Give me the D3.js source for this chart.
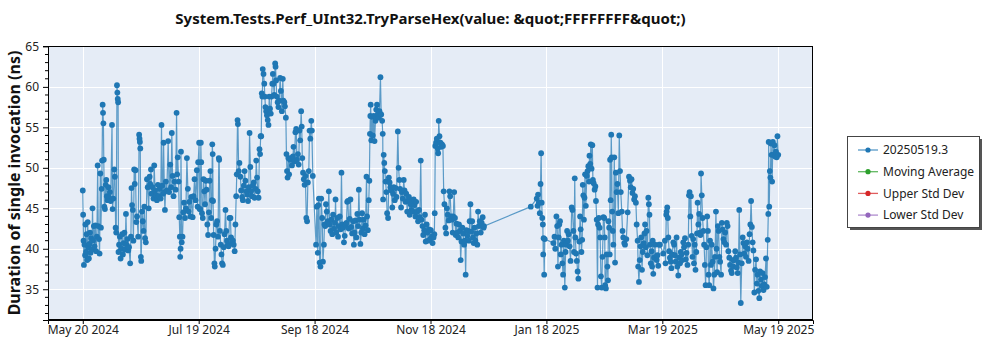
<!DOCTYPE html>
<html>
<head>
<meta charset="utf-8">
<script src="https://cdn.jsdelivr.net/npm/d3@7"></script>
<style>
  html, body { margin: 0; padding: 0; background: #ffffff; }
  svg { display: block; font-family: "Segoe UI", "Noto Sans", "Open Sans", sans-serif; }
</style>
</head>
<body>
<svg id="chart" width="1000" height="350"></svg>
<script>
// ---- data -------------------------------------------------------------
const chartTitle = "System.Tests.Perf_UInt32.TryParseHex(value: &quot;FFFFFFFF&quot;)";
const yAxisTitle = "Duration of single invocation (ns)";
const firstRun = new Date(2024, 4, 20);
const lastRun = new Date(2025, 4, 19);
const xTickLabels = ["May 20 2024", "Jul 19 2024", "Sep 18 2024", "Nov 18 2024", "Jan 18 2025", "Mar 19 2025", "May 19 2025"];
const yMajorTicks = [35, 40, 45, 50, 55, 60, 65];
const legendLabels = ["20250519.3", "Moving Average", "Upper Std Dev", "Lower Std Dev"];
const legendColors = ["#1f77b4", "#2ca02c", "#d62728", "#9467bd"];

// [days since first run, duration in ns]
const runs = [
[0.0,47.2],[0.2,44.2],[0.4,41.0],[0.6,38.0],[0.9,40.5],[1.2,39.2],[1.4,43.0],[1.7,39.6],[2.0,41.8],[2.3,38.6],
[2.6,43.3],[2.9,40.2],[3.2,38.8],[3.5,40.6],[3.8,42.0],[4.1,39.5],[4.4,41.3],[4.8,39.9],[5.1,45.0],[5.4,41.0],
[5.8,42.8],[6.2,40.3],[6.6,42.9],[7.0,39.7],[7.4,41.5],[7.8,50.3],[8.1,42.8],[8.5,41.2],[8.8,39.4],[9.2,49.3],
[9.5,42.6],[9.9,47.4],[10.1,50.9],[10.4,57.8],[10.6,56.8],[10.8,55.5],[11.0,51.0],[11.3,45.2],[11.6,44.9],[12.0,47.9],
[12.3,48.5],[12.6,46.5],[13.0,46.0],[13.4,47.6],[13.8,46.3],[14.2,47.0],[14.6,45.9],[15.3,55.3],[15.6,44.9],[16.0,46.2],
[16.5,49.8],[16.8,48.9],[17.2,42.6],[17.5,42.0],[17.9,60.2],[18.1,59.3],[18.3,58.5],[18.5,58.1],[18.7,39.6],[19.0,40.5],
[19.4,41.5],[19.8,38.8],[20.2,40.0],[20.6,41.8],[21.0,39.3],[21.4,40.7],[21.8,42.0],[22.2,39.9],[22.6,44.3],[23.0,40.5],
[23.4,41.2],[23.8,39.8],[24.2,40.2],[24.8,38.2],[25.2,41.5],[25.5,47.5],[25.8,45.4],[26.2,44.8],[26.5,41.0],[26.9,49.8],
[27.2,48.0],[27.6,49.7],[28.0,43.3],[28.4,44.0],[29.0,41.5],[29.5,54.1],[29.7,53.6],[29.9,53.2],[30.1,52.4],[30.4,39.0],
[30.6,38.5],[31.0,44.6],[31.4,43.4],[31.8,42.2],[32.2,45.2],[32.6,41.3],[33.0,40.8],[33.6,48.6],[34.0,47.6],[34.5,45.0],
[35.0,48.9],[35.3,48.0],[35.7,49.8],[36.0,46.8],[36.5,47.6],[37.0,46.2],[37.4,50.3],[37.8,47.2],[38.3,46.6],[38.8,46.0],
[39.3,47.9],[39.8,46.5],[40.3,47.4],[40.8,46.2],[41.2,55.3],[41.6,47.8],[42.0,46.8],[42.3,53.1],[42.7,47.0],[43.0,44.8],
[43.5,48.3],[44.0,47.2],[44.7,53.3],[45.2,47.0],[45.8,50.4],[46.2,47.6],[46.6,54.3],[47.0,49.0],[47.5,46.5],[48.0,48.3],
[48.6,47.3],[49.1,56.8],[49.4,49.2],[49.7,51.3],[50.2,48.3],[50.5,43.9],[50.8,41.5],[51.0,39.0],[51.2,40.0],[51.4,52.0],
[51.8,40.8],[52.2,41.5],[52.6,44.5],[53.0,45.7],[53.5,43.8],[54.0,45.0],[54.5,51.2],[55.0,47.4],[55.4,44.6],[55.8,45.8],
[56.3,44.0],[56.8,46.4],[57.5,43.9],[58.0,46.5],[58.5,48.6],[59.0,46.0],[59.7,49.7],[60.1,45.2],[60.4,50.7],[60.9,53.1],
[61.2,44.9],[61.5,44.9],[61.8,53.1],[62.0,50.7],[62.4,44.4],[62.8,43.8],[63.2,48.6],[63.6,47.1],[64.0,45.5],[64.4,48.4],
[64.8,47.3],[65.2,43.0],[65.6,41.7],[66.0,44.5],[66.4,48.4],[66.8,49.6],[67.2,43.8],[67.6,46.0],[67.8,52.9],[68.0,51.7],
[68.2,45.9],[68.5,41.7],[68.9,38.2],[69.1,37.8],[69.5,40.0],[69.9,43.0],[70.3,43.4],[70.8,41.5],[71.2,51.2],[71.4,51.0],
[71.8,42.2],[72.2,40.5],[72.6,39.3],[72.9,38.2],[73.3,38.0],[73.8,40.2],[74.2,41.8],[74.7,44.8],[75.1,42.2],[75.5,41.0],
[75.9,40.5],[76.3,40.3],[76.8,43.8],[77.3,43.8],[77.6,41.4],[78.1,40.8],[78.6,41.0],[79.0,40.5],[79.5,39.7],[79.9,43.0],
[80.3,46.5],[80.6,49.2],[81.0,55.9],[81.2,55.4],[81.6,49.6],[82.0,50.6],[82.5,48.9],[82.9,47.2],[83.4,46.4],[83.8,46.0],
[84.3,47.8],[84.7,49.6],[85.1,48.4],[85.6,47.1],[86.0,46.7],[86.5,45.9],[86.9,47.6],[87.3,54.3],[87.7,50.1],[88.1,47.1],
[88.5,46.5],[89.0,47.8],[89.5,48.2],[89.9,46.3],[90.4,47.4],[90.8,50.9],[91.2,48.8],[91.6,47.1],[92.0,46.3],[92.5,52.3],
[92.8,51.7],[93.1,53.9],[93.4,53.9],[93.7,59.2],[94.0,58.8],[94.2,62.2],[94.6,61.6],[95.0,60.4],[95.3,58.8],[95.6,57.5],
[96.0,57.0],[96.4,56.5],[96.8,55.9],[97.2,55.3],[97.6,58.8],[98.0,57.3],[98.4,56.7],[98.8,58.8],[99.2,60.4],[99.5,61.6],
[99.8,60.4],[100.2,59.0],[100.7,62.9],[100.9,62.5],[101.2,60.8],[101.5,58.8],[102.0,58.1],[102.4,57.5],[102.8,58.3],[103.3,61.1],
[103.7,59.5],[104.2,57.0],[104.7,61.0],[105.0,58.3],[105.5,58.1],[105.8,57.6],[106.3,56.2],[106.6,51.7],[106.9,49.6],[107.2,48.8],
[107.6,51.2],[108.0,49.2],[108.5,51.0],[109.0,51.2],[109.5,50.3],[110.0,51.4],[110.3,52.6],[110.8,50.8],[111.3,54.4],[111.7,54.8],
[112.1,51.0],[112.6,51.7],[113.0,50.4],[113.4,54.6],[113.8,53.4],[114.3,57.0],[114.6,55.1],[114.9,51.2],[115.3,49.4],[115.7,48.6],
[116.1,47.9],[116.5,49.0],[117.0,43.8],[117.4,43.4],[117.8,48.2],[118.3,49.6],[118.7,54.6],[119.1,53.6],[119.6,55.8],[119.9,54.6],
[120.4,49.0],[122.1,40.5],[122.5,45.2],[123.0,39.5],[123.3,45.4],[123.6,46.2],[124.0,38.3],[124.4,37.8],[124.8,46.2],[125.3,43.8],
[125.7,38.4],[126.2,40.5],[126.5,43.0],[126.9,42.8],[127.3,45.5],[127.7,44.6],[128.2,43.4],[128.8,47.1],[129.2,43.0],[129.7,42.2],
[130.1,43.6],[130.6,41.8],[131.0,44.2],[131.5,42.5],[132.0,43.2],[132.3,46.1],[132.7,42.0],[133.2,43.8],[133.6,41.5],[134.0,42.8],
[134.5,44.0],[135.0,42.4],[135.4,49.4],[135.8,43.0],[136.2,42.6],[136.7,40.8],[137.1,41.6],[137.6,42.9],[138.0,43.2],[138.4,45.8],
[138.8,45.9],[139.2,42.5],[139.7,43.7],[140.1,46.1],[140.5,42.7],[141.0,41.9],[141.5,43.4],[141.9,40.5],[142.3,42.0],[142.8,43.5],
[143.2,41.4],[143.7,44.3],[144.1,42.8],[144.5,47.3],[144.9,43.6],[145.3,40.6],[145.8,42.0],[146.2,44.4],[146.6,42.5],[147.0,43.6],
[147.5,41.8],[148.0,42.9],[148.5,48.9],[148.8,44.0],[149.2,42.3],[149.7,46.0],[150.0,48.4],[150.3,54.2],[150.5,56.4],[150.7,57.8],
[151.0,53.4],[151.4,56.3],[151.8,54.0],[152.3,56.4],[152.7,53.3],[153.2,55.8],[153.6,57.2],[154.0,57.8],[154.4,56.6],[154.9,56.2],
[155.3,57.0],[155.8,61.2],[156.2,56.6],[156.7,55.8],[157.0,54.2],[157.2,46.1],[157.5,51.6],[157.8,50.6],[158.1,49.6],[158.5,48.3],
[158.9,47.0],[159.3,44.4],[159.8,43.8],[160.2,48.8],[160.6,48.2],[161.0,47.6],[161.5,47.2],[162.0,45.1],[162.4,46.8],[162.8,47.6],
[163.3,46.0],[163.8,47.5],[164.2,46.4],[164.9,54.5],[165.3,50.0],[165.7,48.5],[166.1,47.4],[166.6,45.1],[167.0,47.0],[167.5,46.2],
[168.0,48.5],[168.4,47.2],[168.9,45.8],[169.3,46.8],[169.8,44.6],[170.2,45.9],[170.7,46.4],[171.1,44.2],[171.6,45.5],[172.0,44.8],
[172.4,46.0],[172.8,44.6],[173.2,46.1],[173.6,45.4],[174.1,44.0],[174.5,45.8],[175.0,44.6],[175.5,43.4],[176.0,44.8],[176.4,43.9],
[176.9,50.9],[177.3,43.6],[177.8,42.8],[178.2,41.7],[178.7,42.3],[179.1,44.2],[179.5,40.9],[180.0,43.0],[180.4,42.0],[180.8,41.0],
[181.3,42.4],[181.8,41.2],[182.2,42.3],[182.7,41.5],[183.1,40.7],[183.6,41.4],[184.0,41.8],[184.2,44.4],[184.5,52.7],[184.9,53.1],
[185.3,53.6],[185.8,52.4],[186.0,51.8],[186.3,55.8],[186.7,53.9],[187.2,53.1],[187.6,52.6],[188.0,52.9],[188.5,52.7],[188.9,47.1],
[189.3,45.5],[189.8,42.6],[190.2,41.9],[190.6,45.0],[191.0,44.2],[191.5,43.5],[191.9,47.1],[192.3,46.5],[192.8,44.0],[193.2,43.6],
[193.6,42.0],[193.9,44.0],[194.4,47.0],[194.8,43.8],[195.2,41.7],[195.6,43.1],[196.0,42.0],[196.5,41.4],[196.9,43.0],[197.4,42.2],
[197.8,38.6],[198.2,40.9],[198.7,42.6],[199.1,41.9],[199.6,40.5],[200.0,41.0],[200.4,36.8],[200.8,42.3],[201.3,41.6],[201.7,42.2],
[202.1,41.0],[202.5,43.4],[202.9,45.5],[203.3,42.1],[203.8,43.4],[204.2,41.4],[204.6,40.7],[205.0,42.6],[205.5,41.0],[206.0,41.9],
[206.5,40.5],[206.9,44.6],[207.3,42.8],[207.8,43.4],[208.3,42.0],[208.8,43.2],[209.3,43.9],[209.8,42.6],[210.0,42.8],
[234.5,45.2],[237.6,46.2],[238.0,45.3],[238.3,46.7],[238.7,45.7],[239.2,44.4],[239.6,48.0],[239.9,51.8],[240.2,45.7],[240.5,43.8],
[240.8,43.0],[241.0,39.3],[241.2,41.3],[241.5,36.8],[241.8,41.2],[246.3,40.7],[246.9,41.5],[247.3,40.0],[247.9,44.0],[248.3,42.8],
[248.7,37.8],[249.1,41.4],[249.4,43.0],[249.8,43.4],[250.2,39.3],[250.6,40.5],[251.0,38.2],[251.4,36.8],[251.8,41.0],[252.3,35.2],
[252.7,39.6],[253.1,40.5],[253.5,42.2],[253.9,41.0],[254.3,41.8],[254.8,40.3],[255.3,38.5],[255.9,45.1],[256.3,44.8],[256.8,42.2],
[257.1,39.6],[257.5,48.7],[257.8,41.4],[258.2,39.4],[258.6,38.5],[259.0,37.2],[259.4,36.3],[259.9,40.9],[260.3,44.0],[260.6,42.4],
[261.0,39.6],[261.4,41.1],[261.7,47.9],[262.0,46.6],[262.3,43.6],[262.6,46.3],[262.9,49.2],[263.3,45.3],[263.8,49.0],[264.2,49.6],
[264.6,50.2],[265.0,48.3],[265.2,51.5],[265.6,50.5],[265.9,52.9],[266.3,49.9],[266.7,52.8],[267.0,48.5],[267.4,48.1],[267.9,47.3],
[268.3,47.7],[268.6,45.9],[269.0,43.6],[269.4,35.2],[269.7,43.0],[270.1,43.8],[270.5,42.6],[270.8,41.4],[271.2,36.6],[271.6,35.2],
[272.0,39.0],[272.5,43.9],[272.9,43.8],[273.2,41.4],[273.4,35.5],[273.8,35.1],[274.2,39.3],[274.6,37.8],[274.9,36.1],[275.1,43.4],
[275.5,42.6],[275.8,39.3],[276.0,51.0],[276.3,46.0],[276.6,54.1],[276.8,51.3],[277.1,44.6],[277.4,42.2],[277.7,40.5],[278.2,51.3],
[278.6,38.3],[279.0,49.4],[279.4,47.0],[279.8,48.0],[280.3,44.4],[280.8,54.0],[281.2,49.6],[281.6,47.0],[282.1,44.6],[282.5,42.2],
[282.9,41.4],[283.4,40.7],[283.8,40.5],[284.5,41.2],[285.2,44.5],[285.9,48.9],[286.4,48.4],[286.8,47.6],[287.2,48.6],[287.7,46.9],
[288.1,47.4],[288.6,46.1],[289.0,46.5],[289.5,45.7],[289.9,43.0],[290.4,41.0],[290.7,37.8],[291.1,35.9],[291.5,38.6],[291.9,40.3],
[292.3,41.4],[292.7,37.4],[293.1,39.6],[293.6,40.7],[294.0,41.9],[294.3,43.0],[294.7,40.2],[295.1,42.2],[295.5,39.2],[296.0,46.3],
[296.3,45.5],[296.6,44.2],[296.9,40.5],[297.3,38.2],[297.7,39.7],[298.0,37.8],[298.3,41.0],[298.6,36.9],[299.0,38.9],[299.5,40.5],
[299.9,39.0],[300.4,38.6],[300.8,39.2],[301.2,37.9],[301.6,40.5],[302.1,40.5],[303.8,39.4],[304.7,41.0],[305.0,38.2],[305.4,44.2],
[305.6,44.6],[305.9,45.1],[306.2,43.8],[306.5,41.4],[306.9,39.7],[307.3,38.9],[307.7,38.4],[308.1,37.6],[308.5,39.3],[309.1,40.8],
[309.5,40.5],[309.9,39.2],[310.3,38.4],[310.8,41.4],[311.2,37.8],[311.7,36.7],[312.1,38.9],[312.6,38.2],[313.0,39.6],[313.4,39.3],
[313.8,38.6],[314.3,40.8],[314.7,40.2],[315.2,41.3],[315.6,38.7],[316.0,39.5],[316.5,38.0],[316.9,40.5],[317.3,46.6],[317.6,47.0],
[318.0,44.0],[318.3,46.5],[318.7,41.6],[319.1,39.0],[319.5,41.2],[319.9,38.2],[320.3,40.5],[320.7,37.4],[321.1,39.6],[321.5,41.9],
[321.8,45.7],[322.2,43.0],[322.6,44.3],[323.0,42.0],[323.3,41.7],[323.6,49.3],[324.0,46.6],[324.4,43.8],[324.8,42.2],[325.2,40.5],
[325.6,38.0],[326.0,35.5],[326.4,40.2],[326.8,44.0],[327.2,42.2],[327.5,36.8],[327.9,35.5],[328.3,41.0],[328.8,38.0],[329.2,40.5],
[329.7,38.4],[330.1,35.1],[330.5,36.8],[330.9,39.0],[331.4,44.6],[331.7,40.0],[332.0,37.1],[332.4,42.8],[332.8,42.2],[333.2,39.0],
[333.6,38.4],[334.1,36.8],[334.5,43.2],[334.9,42.4],[335.3,41.2],[335.8,40.8],[336.2,42.0],[336.7,40.5],[337.1,43.2],[337.5,42.8],
[337.9,39.7],[338.4,38.9],[338.8,38.0],[339.3,37.3],[339.7,37.0],[340.2,38.6],[340.6,37.8],[341.0,38.6],[341.5,39.7],[341.9,38.9],
[342.3,37.7],[342.8,37.0],[343.2,38.3],[343.6,44.8],[344.0,39.3],[344.4,33.3],[344.9,38.2],[345.4,41.4],[345.8,40.7],[346.2,39.4],
[346.7,40.3],[347.1,39.0],[347.6,40.8],[348.0,40.0],[348.5,38.5],[349.0,41.8],[349.4,43.0],[349.8,45.9],[350.2,42.7],[350.6,40.8],
[351.0,39.8],[351.5,34.6],[351.9,37.4],[352.4,38.7],[352.8,35.7],[353.2,36.8],[353.6,34.8],[354.1,33.9],[354.5,37.2],[355.0,36.2],
[355.4,35.4],[355.8,37.0],[356.3,34.9],[356.7,35.6],[357.1,36.5],[357.6,38.8],[358.0,35.3],[358.5,41.1],[358.8,44.3],[359.0,53.2],
[359.3,45.2],[359.6,49.6],[359.9,48.8],[360.2,53.0],[360.5,51.6],[360.8,48.3],[361.2,53.2],[361.6,51.6],[362.0,52.8],[362.4,51.4],
[362.8,52.0],[363.2,51.3],[363.6,53.9],[364.0,51.6]
];

// ---- layout -----------------------------------------------------------
const plot = { left: 48, right: 813, top: 46, bottom: 320 };
const DAY = 24 * 3600 * 1000;
const svg = d3.select("#chart");

const span = lastRun - firstRun;
const x = d3.scaleTime()
  .domain([new Date(+firstRun - span * 0.05), new Date(+lastRun + span * 0.05)])
  .range([plot.left, plot.right]);
const y = d3.scaleLinear().domain([31.2, 65.05]).range([plot.bottom, plot.top]);

const xTickDates = xTickLabels.map((_, i) => new Date(+firstRun + span * i / (xTickLabels.length - 1)));
const points = runs.map(([d, v]) => ({ date: new Date(+firstRun + d * DAY), value: v }));

// plot background
svg.append("rect")
  .attr("x", plot.left).attr("y", plot.top)
  .attr("width", plot.right - plot.left).attr("height", plot.bottom - plot.top)
  .attr("fill", "#e5ecf6");

// grid
const grid = svg.append("g").attr("stroke", "#ffffff").attr("stroke-width", 1);
grid.selectAll(".gx").data(xTickDates).join("line")
  .attr("x1", d => Math.round(x(d)) + 0.5).attr("x2", d => Math.round(x(d)) + 0.5)
  .attr("y1", plot.top).attr("y2", plot.bottom);
grid.selectAll(".gy").data(yMajorTicks.filter(v => v < 65)).join("line")
  .attr("x1", plot.left).attr("x2", plot.right)
  .attr("y1", d => Math.round(y(d)) + 0.5).attr("y2", d => Math.round(y(d)) + 0.5);

// series
svg.append("clipPath").attr("id", "plotClip").append("rect")
  .attr("x", plot.left).attr("y", plot.top)
  .attr("width", plot.right - plot.left).attr("height", plot.bottom - plot.top);
const series = svg.append("g").attr("clip-path", "url(#plotClip)");
series.append("path")
  .datum(points)
  .attr("fill", "none")
  .attr("stroke", "#1f77b4")
  .attr("stroke-opacity", 0.7)
  .attr("stroke-width", 1.2)
  .attr("d", d3.line().x(d => x(d.date)).y(d => y(d.value)));
series.selectAll("circle").data(points).join("circle")
  .attr("cx", d => x(d.date)).attr("cy", d => y(d.value))
  .attr("r", 2.9)
  .attr("fill", "#1f77b4");

// frame
svg.append("rect")
  .attr("x", plot.left + 0.5).attr("y", plot.top + 0.5)
  .attr("width", plot.right - plot.left - 1).attr("height", plot.bottom - plot.top - 1)
  .attr("fill", "none").attr("stroke", "#000").attr("stroke-width", 1);

// y axis
const yAxis = d3.axisLeft(y).tickValues(yMajorTicks).tickSize(5).tickPadding(4).tickFormat(d3.format("d"));
const gy = svg.append("g").attr("transform", `translate(${plot.left},0)`).call(yAxis);
const yMinor = d3.range(32, 66).filter(v => v % 5 !== 0);
gy.selectAll(".minor").data(yMinor).join("line")
  .attr("class", "minor")
  .attr("x1", -3).attr("x2", 0)
  .attr("y1", d => y(d)).attr("y2", d => y(d))
  .attr("stroke", "#000");

// x axis
const xAxis = d3.axisBottom(x).tickValues(xTickDates).tickSize(4).tickPadding(1)
  .tickFormat((d, i) => xTickLabels[i]);
const gx = svg.append("g").attr("transform", `translate(0,${plot.bottom})`).call(xAxis);

[gx, gy].forEach(g => {
  g.select(".domain").attr("stroke", "#000");
  g.selectAll(".tick line").attr("stroke", "#000");
  g.selectAll(".tick text").attr("fill", "#222").attr("font-size", 12)
    .attr("font-family", "\"Segoe UI\", \"Noto Sans\", sans-serif");
});

// titles
svg.append("text")
  .attr("x", (plot.left + plot.right) / 2).attr("y", 24)
  .attr("text-anchor", "middle")
  .attr("font-size", 15).attr("font-weight", "bold").attr("fill", "#111")
  .text(chartTitle);
svg.append("text")
  .attr("transform", `translate(20,${(plot.top + plot.bottom) / 2}) rotate(-90)`)
  .attr("text-anchor", "middle")
  .attr("font-size", 16).attr("font-weight", "bold").attr("fill", "#111")
  .text(yAxisTitle);

// legend
const lg = svg.append("g").attr("transform", "translate(847,136)");
lg.append("rect").attr("x", 3).attr("y", 3).attr("width", 132).attr("height", 91).attr("fill", "#555");
lg.append("rect").attr("x", 0.5).attr("y", 0.5).attr("width", 132).attr("height", 91)
  .attr("fill", "#ffffff").attr("stroke", "#444");
const items = lg.selectAll(".item").data(legendLabels).join("g")
  .attr("transform", (d, i) => `translate(0,${14 + i * 21.7})`);
items.append("line").attr("x1", 11).attr("x2", 31).attr("y1", 0).attr("y2", 0)
  .attr("stroke", (d, i) => legendColors[i]).attr("stroke-opacity", 0.75).attr("stroke-width", 1.3);
items.append("circle").attr("cx", 21).attr("cy", 0).attr("r", 2.6)
  .attr("fill", (d, i) => legendColors[i]);
items.append("text").attr("x", 36).attr("y", 0).attr("dy", "0.35em")
  .attr("font-size", 12).attr("fill", "#222").text(d => d);
</script>
</body>
</html>
